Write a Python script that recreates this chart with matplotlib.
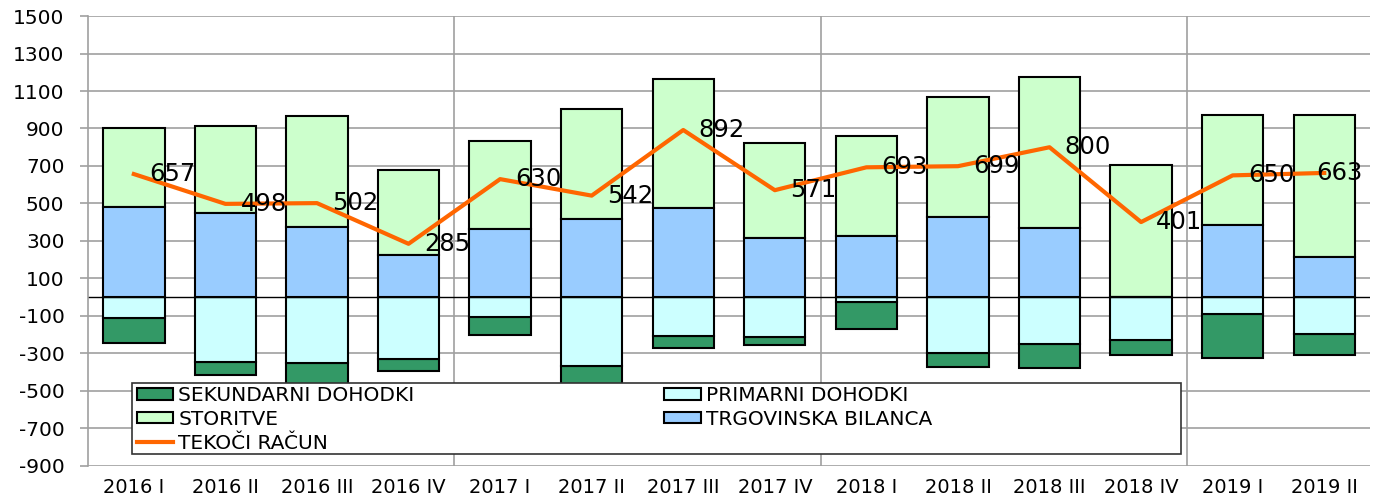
import matplotlib.pyplot as plt
import numpy as np
from matplotlib.patches import Rectangle

quarters = ["2016 I", "2016 II", "2016 III", "2016 IV",
            "2017 I", "2017 II", "2017 III", "2017 IV",
            "2018 I", "2018 II", "2018 III", "2018 IV",
            "2019 I", "2019 II"]
trgovinska = [481, 450, 375, 224, 363, 418, 478, 315, 327, 427, 370, 0, 384, 215]
storitve = [422, 464, 592, 457, 469, 585, 686, 508, 532, 641, 803, 704, 587, 756]
primarni = [-110, -347, -350, -331, -105, -368, -206, -212, -28, -295, -252, -228, -92, -196]
sekundarni = [-134, -69, -115, -65, -98, -93, -66, -42, -139, -77, -123, -78, -232, -113]
tekoci = [657, 498, 502, 285, 630, 542, 892, 571, 693, 699, 800, 401, 650, 663]

plt.rcParams['font.family'] = ['DejaVu Sans']
plt.rcParams['axes.unicode_minus'] = False

fig = plt.figure(figsize=(13.78, 4.97), dpi=100)
ax = fig.add_axes([0.0639, 0.0624, 0.9303, 0.9054])

x = np.arange(len(quarters))
w = 0.67
edge = dict(edgecolor='black', linewidth=1.5, zorder=2)

b_sek = ax.bar(x, sekundarni, w, bottom=primarni, color='#339966', **edge)
b_stor = ax.bar(x, storitve, w, bottom=trgovinska, color='#CCFFCC', **edge)
b_prim = ax.bar(x, primarni, w, color='#CCFFFF', **edge)
b_trg = ax.bar(x, trgovinska, w, color='#99CCFF', **edge)
line, = ax.plot(x, tekoci, color='#FF6600', linewidth=3, zorder=3)

for i, (xi, v) in enumerate(zip(x, tekoci)):
    dx = 11 if i < len(tekoci) - 1 else -6
    ax.annotate(str(v), (xi, v), xytext=(dx, 0), textcoords='offset points',
                ha='left', va='center', fontsize=17.5, color='black', zorder=4)

ax.axhline(0, color='black', linewidth=1, zorder=2.5)

ax.set_xlim(-0.5, len(quarters) - 0.5)
ax.set_ylim(-900, 1500)
ax.set_yticks(range(-900, 1501, 200))
ax.yaxis.grid(True, color='#a0a0a0', linewidth=1.2)
for xv in [3.5, 7.5, 11.5]:
    ax.axvline(xv, color='#a0a0a0', linewidth=1.2, zorder=0.5)
ax.set_axisbelow(True)

for s in ['top', 'right', 'bottom']:
    ax.spines[s].set_visible(False)
ax.spines['left'].set_color('#a0a0a0')
ax.spines['left'].set_linewidth(1.2)

ax.set_xticks(x)
ax.set_xticklabels(quarters)
ax.tick_params(axis='x', length=0, labelsize=14, pad=9)
ax.tick_params(axis='y', length=6, color='#a0a0a0', width=1.2, labelsize=14.5, pad=11)

# legend box
box = Rectangle((132 / 1378, (497 - 454) / 497), 1049 / 1378, 71 / 497,
                transform=fig.transFigure, facecolor='white', edgecolor='#333333',
                linewidth=1.2, zorder=4.5, clip_on=False)
ax.add_patch(box)

leg = ax.legend([b_sek, b_stor, line, b_prim, b_trg],
                ["SEKUNDARNI DOHODKI", "STORITVE", "TEKOČI RAČUN",
                 "PRIMARNI DOHODKI", "TRGOVINSKA BILANCA"],
                ncol=2, frameon=False, fontsize=14.5,
                loc='upper left', bbox_to_anchor=(137 / 1378, (497 - 386) / 497),
                bbox_transform=fig.transFigure, borderpad=0, borderaxespad=0,
                handlelength=1.8, handleheight=0.5, handletextpad=0.25,
                labelspacing=0.24, columnspacing=12.4)
leg.set_zorder(5)

fig.savefig('out.png', dpi=100)
